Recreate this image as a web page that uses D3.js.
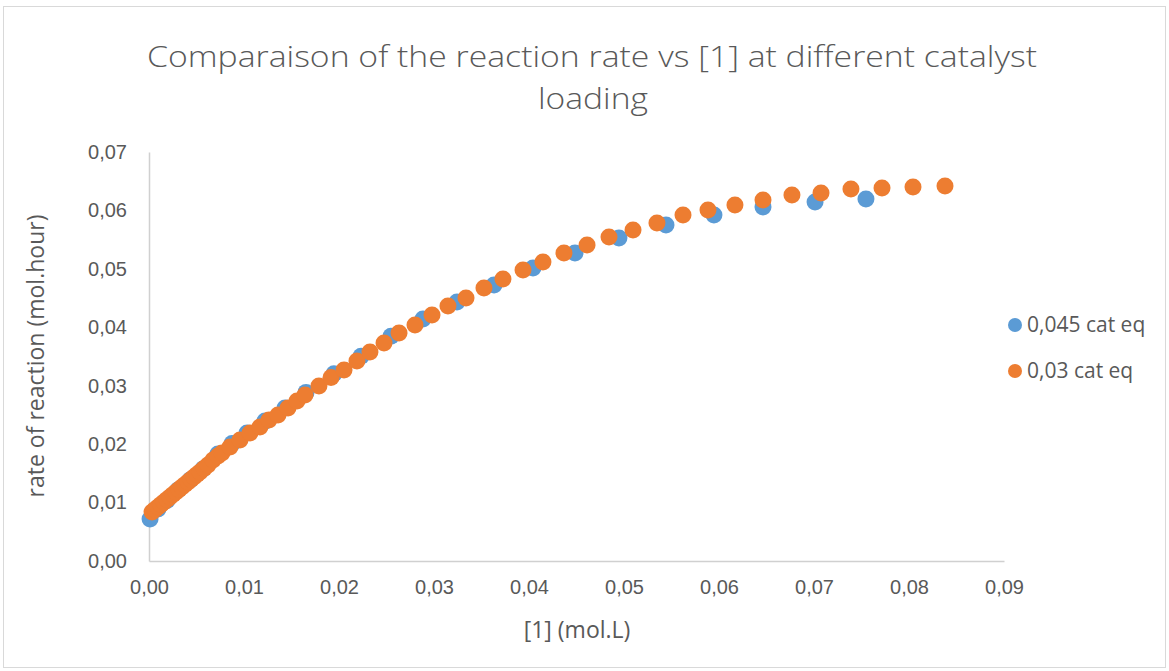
<!DOCTYPE html>
<html>
<head>
<meta charset="utf-8">
<script src="https://cdn.jsdelivr.net/npm/d3@7"></script>
<style>
  html, body { margin: 0; padding: 0; background: #fff; }
  svg { display: block; font-family: "Open Sans", "Liberation Sans", sans-serif; }
</style>
</head>
<body>
<svg id="chart" width="1169" height="671"></svg>
<script>
// ---- data ----
const seriesNames = ["0,045 cat eq", "0,03 cat eq"];
const seriesColors = ["#5B9BD5", "#ED7D31"];

const blueX = [0.00011, 0.00095, 0.00189, 0.00305, 0.00432, 0.00568, 0.00726, 0.00874, 0.01032, 0.01221,
  0.01432, 0.01653, 0.01947, 0.02232, 0.02547, 0.02884, 0.03242, 0.03632, 0.04042, 0.04484,
  0.04947, 0.05442, 0.05947, 0.06463, 0.07011, 0.07547];
const blueY = [0.00719, 0.00890, 0.01035, 0.01215, 0.01386, 0.01575, 0.01831, 0.02009, 0.02189, 0.02394,
  0.02617, 0.02886, 0.03204, 0.03505, 0.03846, 0.04142, 0.04433, 0.04724, 0.05015, 0.05271,
  0.05528, 0.05750, 0.05922, 0.06059, 0.06144, 0.06195];

const orangeX = [0.00032, 0.00063, 0.00095, 0.00126, 0.00158, 0.00189, 0.00221, 0.00253, 0.00284, 0.00316,
  0.00347, 0.00379, 0.00411, 0.00442, 0.00474, 0.00505, 0.00537, 0.00579, 0.00621, 0.00674,
  0.00726, 0.00768, 0.00853, 0.00958, 0.01063, 0.01168, 0.01263, 0.01358, 0.01463, 0.01558,
  0.01642, 0.01789, 0.01916, 0.02053, 0.02189, 0.02326, 0.02474, 0.02632, 0.02800, 0.02979,
  0.03147, 0.03337, 0.03526, 0.03726, 0.03937, 0.04147, 0.04368, 0.04611, 0.04842, 0.05095,
  0.05347, 0.05621, 0.05884, 0.06168, 0.06463, 0.06768, 0.07074, 0.07389, 0.07716, 0.08042,
  0.08379];
const orangeY = [0.00839, 0.00881, 0.00924, 0.00967, 0.01010, 0.01053, 0.01095, 0.01138, 0.01181, 0.01224,
  0.01267, 0.01309, 0.01352, 0.01395, 0.01438, 0.01481, 0.01523, 0.01583, 0.01643, 0.01729,
  0.01797, 0.01848, 0.01951, 0.02071, 0.02191, 0.02293, 0.02413, 0.02499, 0.02619, 0.02738,
  0.02841, 0.02995, 0.03140, 0.03269, 0.03423, 0.03577, 0.03731, 0.03902, 0.04039, 0.04210,
  0.04364, 0.04501, 0.04672, 0.04826, 0.04980, 0.05117, 0.05271, 0.05408, 0.05545, 0.05665,
  0.05785, 0.05922, 0.06007, 0.06093, 0.06178, 0.06264, 0.06298, 0.06366, 0.06383, 0.06400,
  0.06418];

const xTicks = [0, 0.01, 0.02, 0.03, 0.04, 0.05, 0.06, 0.07, 0.08, 0.09];
const yTicks = [0, 0.01, 0.02, 0.03, 0.04, 0.05, 0.06, 0.07];

const titleLines = ["Comparaison of the reaction rate vs [1] at different catalyst", "loading"];
const xTitle = "[1] (mol.L)";
const yTitle = "rate of reaction (mol.hour)";

// ---- layout ----
const svg = d3.select("#chart");
const W = 1169, H = 671;
const plot = { left: 149, right: 1004, top: 152, bottom: 561 };
const textColor = "#595959";
const axisColor = "#d0d0d0";

svg.append("rect").attr("x", 3.5).attr("y", 6.5).attr("width", W - 7).attr("height", H - 10)
  .attr("fill", "#fff").attr("stroke", "#d9d9d9").attr("stroke-width", 1);

const x = d3.scaleLinear().domain([0, 0.09]).range([plot.left, plot.right]);
const y = d3.scaleLinear().domain([0, 0.07]).range([plot.bottom, plot.top]);
const fmt = v => d3.format(".2f")(v).replace(".", ",");

// x axis
const gx = svg.append("g").attr("transform", `translate(0,${plot.bottom})`)
  .call(d3.axisBottom(x).tickValues(xTicks).tickFormat(fmt).tickSize(0).tickPadding(19));
gx.select(".domain").attr("stroke", axisColor).attr("stroke-width", 1.5);
gx.selectAll("text").attr("fill", textColor).style("font-size", "20px").style("font-family", "inherit");

// y axis
const gy = svg.append("g").attr("transform", `translate(${plot.left},0)`)
  .call(d3.axisLeft(y).tickValues(yTicks).tickFormat(fmt).tickSize(0).tickPadding(22));
gy.select(".domain").attr("stroke", axisColor).attr("stroke-width", 1.5);
gy.selectAll("text").attr("fill", textColor).style("font-size", "20px").style("font-family", "inherit");

// title
svg.append("text").attr("x", 592).attr("y", 67).attr("text-anchor", "middle")
  .attr("fill", textColor).style("font-size", "30px").style("font-weight", 300)
  .attr("textLength", 890).attr("lengthAdjust", "spacingAndGlyphs")
  .text(titleLines[0]);
svg.append("text").attr("x", 593).attr("y", 109).attr("text-anchor", "middle")
  .attr("fill", textColor).style("font-size", "30px").style("font-weight", 300)
  .attr("textLength", 110).attr("lengthAdjust", "spacingAndGlyphs")
  .text(titleLines[1]);

// axis titles
svg.append("text").attr("x", 577).attr("y", 638).attr("text-anchor", "middle")
  .attr("fill", textColor).style("font-size", "23px").text(xTitle);
svg.append("text").attr("transform", "translate(44,356) rotate(-90)").attr("text-anchor", "middle")
  .attr("fill", textColor).style("font-size", "23px").text(yTitle);

// points
const series = [
  { xs: blueX, ys: blueY, color: seriesColors[0] },
  { xs: orangeX, ys: orangeY, color: seriesColors[1] }
];
const r = 8.5;
series.forEach(s => {
  svg.append("g").selectAll("circle")
    .data(s.xs.map((v, i) => [v, s.ys[i]]))
    .join("circle")
    .attr("cx", d => x(d[0])).attr("cy", d => y(d[1])).attr("r", r)
    .attr("fill", s.color);
});

// legend
const legend = svg.append("g");
seriesNames.forEach((name, i) => {
  const ly = 325 + i * 46;
  legend.append("circle").attr("cx", 1015).attr("cy", ly).attr("r", 7).attr("fill", seriesColors[i]);
  legend.append("text").attr("x", 1027).attr("y", ly + 7).attr("fill", textColor)
    .style("font-size", "21px").text(name);
});
</script>
</body>
</html>
